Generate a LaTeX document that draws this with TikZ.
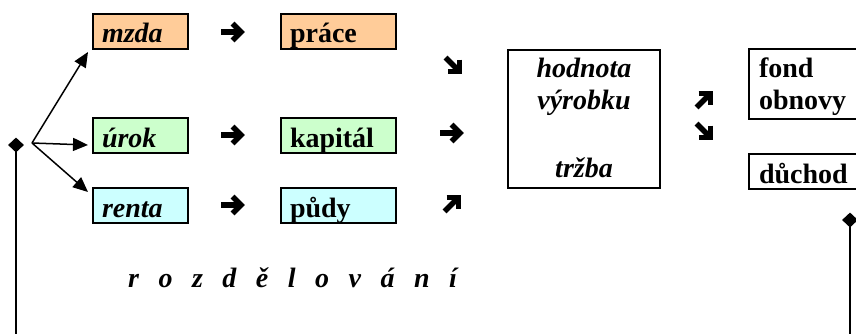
\documentclass[tikz,border=0pt]{standalone}
\usepackage{fontspec}
\setmainfont{Liberation Serif}
\usetikzlibrary{arrows.meta,shapes.geometric,calc}
\definecolor{corange}{HTML}{FFCC99}
\definecolor{cgreen}{HTML}{CCFFCC}
\definecolor{ccyan}{HTML}{CCFFFF}
\newcommand\rozgap{\hspace{19.5pt}}
\tikzset{
  bigfont/.style={font=\fontsize{28}{32}\selectfont\bfseries},
  sbox/.style={draw, line width=2pt, anchor=north west, inner xsep=9pt, inner ysep=0pt,
    text height=29pt, text depth=6pt, align=left, bigfont},
  conn/.style={line width=1.5pt, -{Triangle[length=15pt,width=13pt]}},
  pin/.style={diamond, fill=black, inner sep=0pt, minimum width=16pt, minimum height=15pt},
  post/.style={line width=2.5pt},
  garrow/.pic={
    \draw[line width=5.5pt] (-12,0) -- (8,0);
    \draw[line width=5.5pt, miter limit=10] (-0.5,-8.5) -- (8,0) -- (-0.5,8.5);
  }
}
\begin{document}
\begin{tikzpicture}[x=1pt,y=-1pt]
\useasboundingbox (0,0) rectangle (856,334);
% left column boxes
\node[sbox, fill=corange, text width=77pt] (mzda) at (92,13) {\itshape mzda};
\node[sbox, fill=cgreen, text width=77pt] (urok) at (92,117) {\itshape úrok};
\node[sbox, fill=ccyan, text width=77pt] (renta) at (92,187) {\itshape renta};
% second column boxes
\node[sbox, fill=corange, text width=97pt] (prace) at (280,13) {práce};
\node[sbox, fill=cgreen, text width=97pt] (kapital) at (280,117) {kapitál};
\node[sbox, fill=ccyan, text width=97pt] (pudy) at (280,187) {půdy};
% product value box
\node[draw, line width=2pt, anchor=north west, inner xsep=10pt, inner ysep=0pt,
  text width=132pt, align=center, text height=28pt, text depth=110pt, bigfont]
  (hv) at (507,49) {\itshape hodnota\\ \itshape výrobku\\[36pt] \itshape tržba};
% right boxes
\node[draw, line width=2pt, anchor=north west, inner xsep=10pt, inner ysep=0pt,
  text width=120pt, align=left, text height=29pt, text depth=41pt, bigfont]
  (fond) at (748,48) {fond\\obnovy};
\node[sbox, text width=120pt, inner xsep=10pt] (duchod) at (748,153) {důchod};
% glyph arrows
\pic at (233,32) {garrow};
\pic at (233,135) {garrow};
\pic at (233,205) {garrow};
\pic[rotate=-45] at (454,66) {garrow};
\pic at (452,133) {garrow};
\pic[rotate=45] at (453,203) {garrow};
\pic[rotate=45] at (705,99) {garrow};
\pic[rotate=-45] at (705,132) {garrow};
% branching connectors
\coordinate (br) at (32,143);
\draw[conn] (br) -- ($(mzda.south west)+(-4,2)$);
\draw[conn] (br) -- ($(urok.south west)+(-4,-9)$);
\draw[conn] (br) -- ($(renta.north west)+(-4,5)$);
% posts
\node[pin] (dl) at (16,145) {};
\coordinate (dlb) at (16,334);
\draw[post] (dl.center) -- (dlb);
\node[pin] (dr) at (850,220) {};
\coordinate (drb) at (850,334);
\draw[post] (dr.center) -- (drb);
% caption
\node[anchor=base west, inner sep=0pt, font=\fontsize{28}{32}\selectfont\bfseries\itshape] (roz) at (128,287)
  {r\rozgap o\rozgap z\rozgap d\rozgap ě\rozgap l\rozgap o\rozgap v\rozgap á\rozgap n\rozgap í};
\end{tikzpicture}
\end{document}
